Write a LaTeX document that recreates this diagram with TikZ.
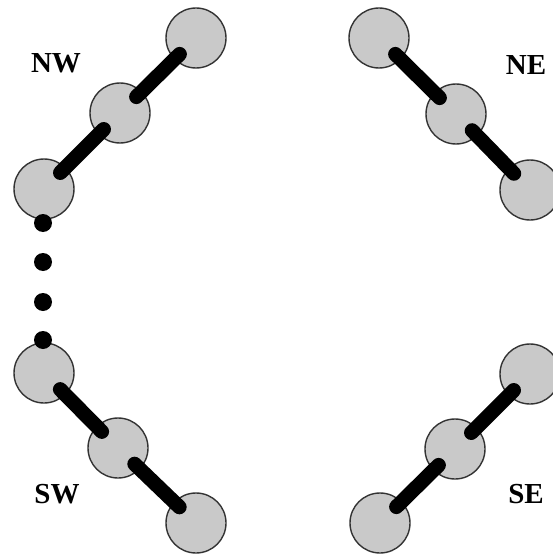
\documentclass[tikz,border=0pt]{standalone}
\usepackage{fontspec}
\setmainfont{Liberation Serif}
\begin{document}
\begin{tikzpicture}[x=1pt,y=-1pt,
  ball/.style={circle,draw=black!80,line width=1.4pt,fill=black!21,minimum size=60pt,inner sep=0pt},
  bar/.style={line width=14.5pt,line cap=round,shorten >=23pt,shorten <=23pt},
  dotnode/.style={circle,fill=black,minimum size=18pt,inner sep=0pt},
  lbl/.style={font=\fontsize{29}{30}\selectfont\bfseries,inner sep=0pt}]
\clip (0,0) rectangle (553,559);
\useasboundingbox (0,0) rectangle (553,559);
% NW
\node[ball] (n1) at (196,38) {};
\node[ball] (n2) at (120,113) {};
\node[ball] (n3) at (44,189) {};
\draw[bar] (n1.center) -- (n2.center);
\draw[bar] (n2.center) -- (n3.center);
% NE
\node[ball] (e1) at (379,38) {};
\node[ball] (e2) at (456,114) {};
\node[ball] (e3) at (530,190) {};
\draw[bar] (e1.center) -- (e2.center);
\draw[bar] (e2.center) -- (e3.center);
% SW
\node[ball] (s1) at (44,373) {};
\node[ball] (s2) at (118,448) {};
\node[ball] (s3) at (196,523) {};
\draw[bar] (s1.center) -- (s2.center);
\draw[bar] (s2.center) -- (s3.center);
% SE
\node[ball] (f1) at (530,374) {};
\node[ball] (f2) at (455,449) {};
\node[ball] (f3) at (380,523) {};
\draw[bar] (f1.center) -- (f2.center);
\draw[bar] (f2.center) -- (f3.center);
% dots
\node[dotnode] (d1) at (43,223) {};
\node[dotnode] (d2) at (43,262) {};
\node[dotnode] (d3) at (43,302) {};
\node[dotnode] (d4) at (43,340) {};
% labels
\node[lbl] (lnw) at (56,63) {NW};
\node[lbl] (lne) at (526,65) {NE};
\node[lbl] (lsw) at (57,494) {SW};
\node[lbl] (lse) at (526,494) {SE};
\end{tikzpicture}
\end{document}
